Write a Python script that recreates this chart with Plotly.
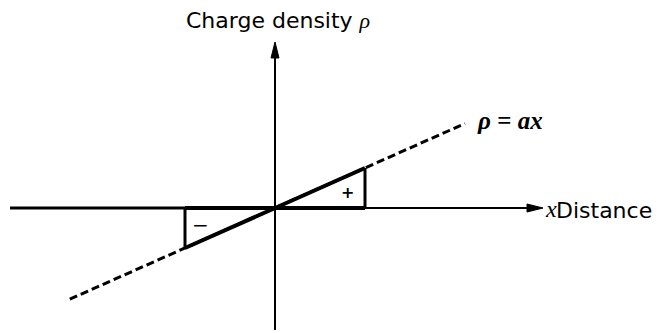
import plotly.graph_objects as go

# Data (x in units of triangle half-width, rho = a*x)
a = 1.0
x_dashed = [-2.28, 2.11]          # extent of the dashed line rho = a x
x_solid = [-1.0, 1.0]             # solid part / triangle extent
x_axis = [-2.944, 2.978]          # horizontal axis extent (arrow tip at right)
rho_axis = [-3.05, 4.15]          # vertical axis extent (arrow tip at top)

rho_dashed = [a * v for v in x_dashed]
rho_solid = [a * v for v in x_solid]

# pixel scale helpers (px per data unit)
PX_X = 90.0
PX_Y = 40.0
head_len, head_half = 16.0, 4.0

fig = go.Figure()

def seg(xs, ys, w, dash=None):
    fig.add_trace(go.Scatter(x=xs, y=ys, mode="lines",
                             line=dict(color="black", width=w, dash=dash),
                             hoverinfo="skip"))

# horizontal axis
seg([x_axis[0], 0], [0, 0], 3)
seg(x_solid, [0, 0], 4)
seg([x_solid[1], x_axis[1] - head_len / PX_X], [0, 0], 2)
# vertical axis
seg([0, 0], [rho_axis[0], rho_axis[1] - head_len / PX_Y], 2)
# dashed rho = a x
seg(x_dashed, rho_dashed, 3, "8px,4px")
# solid part
seg(x_solid, rho_solid, 4)
# triangle verticals
for xv, rv in zip(x_solid, rho_solid):
    seg([xv, xv], [0, rv], 3)

# arrowheads (filled triangles at axis ends)
hx = x_axis[1]
fig.add_trace(go.Scatter(
    x=[hx, hx - head_len / PX_X, hx - head_len / PX_X, hx],
    y=[0, head_half / PX_Y, -head_half / PX_Y, 0],
    mode="lines", fill="toself", fillcolor="black",
    line=dict(color="black", width=1), hoverinfo="skip"))
hy = rho_axis[1]
fig.add_trace(go.Scatter(
    x=[0, head_half / PX_X, -head_half / PX_X, 0],
    y=[hy, hy - head_len / PX_Y, hy - head_len / PX_Y, hy],
    mode="lines", fill="toself", fillcolor="black",
    line=dict(color="black", width=1), hoverinfo="skip"))

# texts
fig.add_annotation(x=0.03, y=4.7, xref="x", yref="y", showarrow=False,
                   text="Charge density <i><span style='font-family:Liberation Serif'>ρ</span></i>",
                   font=dict(family="DejaVu Sans", size=22, color="black"))
fig.add_annotation(x=2.22, y=2.2, xref="x", yref="y", showarrow=False, xanchor="left",
                   text="<b><i>ρ</i> = <i>ax</i></b>",
                   font=dict(family="Liberation Serif, Times New Roman", size=25, color="black"))
fig.add_annotation(x=2.985, y=-0.02, xref="x", yref="y", showarrow=False, xanchor="left",
                   borderpad=0, text="<i>x</i>",
                   font=dict(family="Liberation Serif", size=24, color="black"))
fig.add_annotation(x=3.11, y=-0.05, xref="x", yref="y", showarrow=False, xanchor="left",
                   borderpad=0, text="Distance",
                   font=dict(family="DejaVu Sans", size=22, color="black"))
fig.add_annotation(x=-0.83, y=-0.42, xref="x", yref="y", showarrow=False,
                   text="−", font=dict(family="DejaVu Sans", size=20, color="black"))
fig.add_annotation(x=0.8, y=0.38, xref="x", yref="y", showarrow=False,
                   text="<b>+</b>", font=dict(family="DejaVu Sans", size=16, color="black"))

# page body has an 8px margin: size figure and ranges so the drawing lands on the window
fig.update_layout(
    width=656, height=325, margin=dict(l=0, r=0, t=0, b=0),
    plot_bgcolor="white", paper_bgcolor="white", showlegend=False,
    xaxis=dict(range=[(8 - 275) / PX_X, (664 - 275) / PX_X], visible=False, fixedrange=True),
    yaxis=dict(range=[(208 - 333) / PX_Y, (208 - 8) / PX_Y], visible=False, fixedrange=True),
)

fig.write_html("out.html")
